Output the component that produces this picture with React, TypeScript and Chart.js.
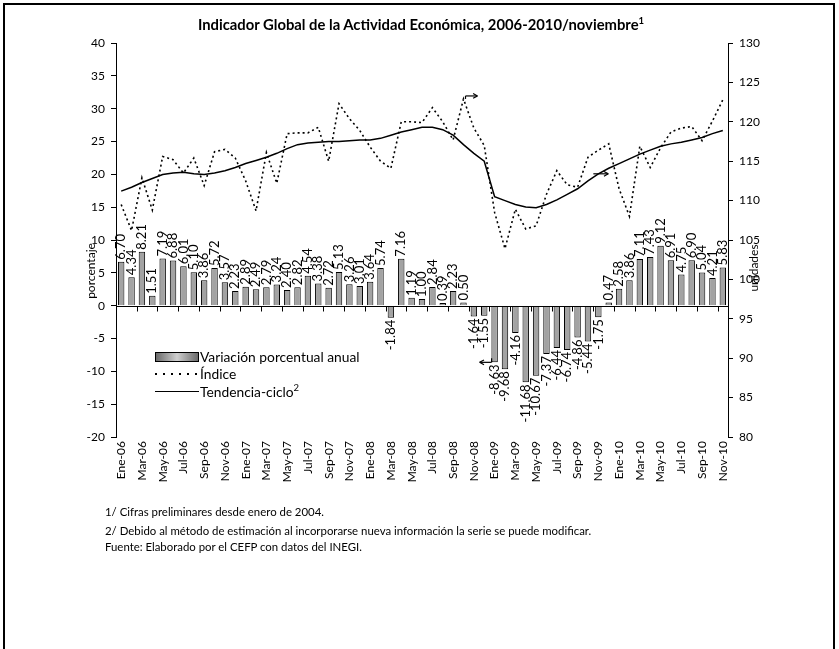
import React, { useEffect, useRef } from "react";
import { Chart, registerables } from "chart.js";
Chart.register(...registerables);

const MONTHS = ["Ene", "Feb", "Mar", "Abr", "May", "Jun", "Jul", "Ago", "Sep", "Oct", "Nov", "Dic"];
const YEARS = ["06", "07", "08", "09", "10"];
const categories: string[] = YEARS.flatMap((y) => MONTHS.map((m) => `${m}-${y}`)).slice(0, 59);

// Variación porcentual anual (left axis, %)
const variacion = [
  6.70, 4.34, 8.21, 1.51, 7.19, 6.88, 6.01, 5.10, 3.86, 5.72, 3.57, 2.23,
  2.89, 2.49, 2.79, 3.24, 2.40, 2.82, 4.54, 3.38, 2.72, 5.13, 3.26, 3.01,
  3.64, 5.74, -1.84, 7.16, 1.19, 1.00, 2.84, 0.39, 2.23, 0.50, -1.64, -1.55,
  -8.63, -9.68, -4.16, -11.68, -10.67, -7.37, -6.44, -6.74, -4.86, -5.44, -1.75, 0.47,
  2.58, 3.86, 7.11, 7.43, 9.12, 6.91, 4.75, 6.90, 5.04, 4.21, 5.83,
];

// Índice (right axis, unidades)
const indice = [
  109.5, 106.2, 112.9, 108.8, 115.6, 115.2, 113.5, 115.4, 111.9, 116.2, 116.5, 115.4,
  112.5, 108.7, 116.1, 112.2, 118.5, 118.6, 118.6, 119.3, 115.0, 122.3, 120.4, 118.9,
  116.8, 115.0, 114.1, 120.0, 120.0, 119.9, 121.8, 120.0, 117.7, 122.9, 119.2, 117.0,
  108.5, 103.9, 108.9, 106.4, 106.8, 110.8, 113.8, 112.0, 111.7, 115.5, 116.4, 117.2,
  111.5, 108.0, 116.9, 114.2, 116.7, 118.7, 119.2, 119.4, 117.6, 120.1, 122.8,
];

// Tendencia-ciclo (right axis, unidades)
const tendencia = [
  111.2, 111.7, 112.3, 112.8, 113.3, 113.5, 113.6, 113.4, 113.3, 113.5, 113.8, 114.2,
  114.7, 115.1, 115.5, 116.0, 116.6, 117.1, 117.3, 117.4, 117.5, 117.5, 117.6, 117.7,
  117.7, 117.9, 118.3, 118.7, 119.0, 119.3, 119.3, 119.0, 118.3, 117.1, 116.0, 115.0,
  110.5, 110.0, 109.5, 109.2, 109.1, 109.5, 110.1, 110.8, 111.5, 112.5, 113.4, 114.1,
  114.7, 115.3, 115.9, 116.4, 116.9, 117.2, 117.4, 117.7, 118.0, 118.5, 118.9,
];

const leftTicks = { min: -20, max: 40, step: 5 };
const rightTicks = { min: 80, max: 130, step: 5 };

const FONT = "Lato, 'Open Sans', sans-serif";

const overlayPlugin = {
  id: "overlay",
  afterDatasetsDraw(chart: any) {
    const ctx = chart.ctx;
    const xs = chart.scales.x;
    const yl = chart.scales.y;
    const yr = chart.scales.y1;
    const area = chart.chartArea;
    const n = categories.length;
    const cw = (area.right - area.left) / n;
    const y0 = yl.getPixelForValue(0);

    ctx.save();
    // horizontal category axis at zero
    ctx.strokeStyle = "#000";
    ctx.lineWidth = 1;
    ctx.beginPath();
    ctx.moveTo(area.left, Math.round(y0) + 0.5);
    ctx.lineTo(area.right, Math.round(y0) + 0.5);
    for (let k = 0; k <= n; k += 2) {
      const x = Math.round(area.left + k * cw) + 0.5;
      ctx.moveTo(x, Math.round(y0) + 0.5);
      ctx.lineTo(x, Math.round(y0) + 5.5);
    }
    ctx.stroke();

    // bar data labels
    const meta = chart.getDatasetMeta(0);
    ctx.fillStyle = "#000";
    ctx.font = `13px ${FONT}`;
    ctx.textBaseline = "middle";
    meta.data.forEach((bar: any, i: number) => {
      const v = variacion[i];
      ctx.save();
      ctx.translate(bar.x, bar.y + (v >= 0 ? -2 : 2));
      ctx.rotate(-Math.PI / 2);
      ctx.textAlign = v >= 0 ? "left" : "right";
      ctx.fillText(v.toFixed(2), 0, 0);
      ctx.restore();
    });

    // arrows
    const arrow = (x1: number, y1: number, x2: number, y2: number) => {
      ctx.beginPath();
      ctx.moveTo(x1, y1);
      ctx.lineTo(x2, y2);
      ctx.stroke();
      const a = Math.atan2(y2 - y1, x2 - x1);
      ctx.beginPath();
      ctx.moveTo(x2, y2);
      ctx.lineTo(x2 - 5 * Math.cos(a - 0.5), y2 - 5 * Math.sin(a - 0.5));
      ctx.moveTo(x2, y2);
      ctx.lineTo(x2 - 5 * Math.cos(a + 0.5), y2 - 5 * Math.sin(a + 0.5));
      ctx.stroke();
    };
    ctx.lineWidth = 1.2;
    // bars -> left axis
    const ib = 36;
    const xb = xs.getPixelForValue(ib);
    const yb = yl.getPixelForValue(variacion[ib]);
    ctx.beginPath();
    ctx.moveTo(xb - 3, yb - 4);
    ctx.lineTo(xb - 3, yb);
    ctx.stroke();
    arrow(xb - 3, yb, xb - 15, yb);
    // índice -> right axis
    const ii = 33;
    const xi = xs.getPixelForValue(ii);
    const yi = yr.getPixelForValue(indice[ii]);
    ctx.beginPath();
    ctx.moveTo(xi + 2, yi);
    ctx.lineTo(xi + 2, yi - 3);
    ctx.stroke();
    arrow(xi + 2, yi - 3, xi + 14, yi - 3);
    // tendencia -> right axis
    const it = 46;
    const xt = xs.getPixelForValue(it);
    const yt = yr.getPixelForValue(tendencia[it]);
    arrow(xt - 5, yt, xt + 10, yt);
    ctx.restore();
  },
};

export default function App() {
  const ref = useRef<HTMLCanvasElement | null>(null);

  useEffect(() => {
    if (!ref.current) return;
    const tickFont = { family: FONT, size: 12 };
    const chart = new Chart(ref.current, {
      type: "bar",
      data: {
        labels: categories,
        datasets: [
          {
            type: "bar",
            label: "Variación porcentual anual",
            data: variacion,
            yAxisID: "y",
            backgroundColor: "#a3a3a3",
            borderColor: "#000",
            borderWidth: 1,
            barPercentage: 0.62,
            categoryPercentage: 1,
            order: 3,
          } as any,
          {
            type: "line",
            label: "Índice",
            data: indice,
            yAxisID: "y1",
            borderColor: "#000",
            borderWidth: 1.6,
            borderDash: [2, 3],
            pointRadius: 0,
            tension: 0,
            order: 1,
          } as any,
          {
            type: "line",
            label: "Tendencia-ciclo",
            data: tendencia,
            yAxisID: "y1",
            borderColor: "#000",
            borderWidth: 1.5,
            pointRadius: 0,
            tension: 0,
            order: 2,
          } as any,
        ],
      },
      options: {
        animation: false,
        responsive: false,
        maintainAspectRatio: false,
        layout: { padding: { top: 43, left: 0, right: 0, bottom: 0 } },
        plugins: {
          legend: { display: false },
          title: { display: false },
          tooltip: { enabled: false },
        },
        scales: {
          x: {
            type: "category",
            offset: true,
            grid: { display: false, drawTicks: false },
            border: { display: false },
            ticks: {
              autoSkip: false,
              maxRotation: 90,
              minRotation: 90,
              padding: 4,
              color: "#000",
              font: tickFont,
              callback: (_v: any, i: number) => (i % 2 === 0 ? categories[i] : ""),
            },
            afterFit: (s: any) => {
              s.height = 212;
            },
          },
          y: {
            position: "left",
            min: leftTicks.min,
            max: leftTicks.max,
            ticks: { stepSize: leftTicks.step, color: "#000", padding: 6, font: tickFont },
            grid: { drawOnChartArea: false, tickLength: 5, color: "#000" },
            border: { color: "#000", width: 1 },
            afterFit: (s: any) => {
              s.width = 116;
            },
          },
          y1: {
            position: "right",
            min: rightTicks.min,
            max: rightTicks.max,
            ticks: { stepSize: rightTicks.step, color: "#000", padding: 6, font: tickFont },
            grid: { drawOnChartArea: false, tickLength: 5, color: "#000" },
            border: { color: "#000", width: 1 },
            afterFit: (s: any) => {
              s.width = 111;
            },
          },
        },
      } as any,
      plugins: [overlayPlugin],
    });
    return () => chart.destroy();
  }, []);

  const txt: React.CSSProperties = { position: "fixed", fontFamily: FONT, color: "#000", whiteSpace: "nowrap" };

  return (
    <div>
      <canvas ref={ref} width={839} height={649} style={{ position: "fixed", left: 0, top: 0, width: 839, height: 649 }} />
      <div style={{ position: "fixed", left: 3, top: 3, width: 828, height: 720, border: "2px solid #000", pointerEvents: "none" }} />
      <div style={{ ...txt, left: 421, top: 24, transform: "translate(-50%, -50%)", fontSize: 14.8, fontWeight: 700 }}>
        Indicador Global de la Actividad Económica, 2006-2010/noviembre<sup style={{ fontSize: 9.5 }}>1</sup>
      </div>
      <div style={{ ...txt, left: 90, top: 271, transform: "translate(-50%, -50%) rotate(-90deg)", fontSize: 12 }}>porcentaje</div>
      <div style={{ ...txt, left: 753, top: 268, transform: "translate(-50%, -50%) rotate(-90deg)", fontSize: 12 }}>unidades</div>
      {/* legend */}
      <div style={{ position: "fixed", left: 155, top: 352, width: 42, height: 8, border: "1px solid #000", background: "linear-gradient(to right, #6a6a6a, #cfcfcf 50%, #6a6a6a)" }} />
      <div style={{ ...txt, left: 200, top: 356, transform: "translateY(-50%)", fontSize: 13.8 }}>Variación porcentual anual</div>
      <div style={{ position: "fixed", left: 155, top: 373, width: 44, height: 2, background: "repeating-linear-gradient(to right, #000 0 2px, transparent 2px 8px)" }} />
      <div style={{ ...txt, left: 200, top: 373, transform: "translateY(-50%)", fontSize: 13.8 }}>Índice</div>
      <div style={{ position: "fixed", left: 155, top: 391, width: 44, height: 0, borderTop: "1.5px solid #000" }} />
      <div style={{ ...txt, left: 200, top: 391, transform: "translateY(-50%)", fontSize: 13.8 }}>
        Tendencia-ciclo<sup style={{ fontSize: 9.5 }}>2</sup>
      </div>
      {/* footnotes */}
      <div style={{ ...txt, left: 105, top: 505, fontSize: 11.4 }}>1/ Cifras preliminares desde enero de 2004.</div>
      <div style={{ ...txt, left: 105, top: 524, fontSize: 11.4 }}>
        2/ Debido al método de estimación al incorporarse nueva información la serie se puede modificar.
      </div>
      <div style={{ ...txt, left: 105, top: 540, fontSize: 11.4 }}>Fuente: Elaborado por el CEFP con datos del INEGI.</div>
    </div>
  );
}
